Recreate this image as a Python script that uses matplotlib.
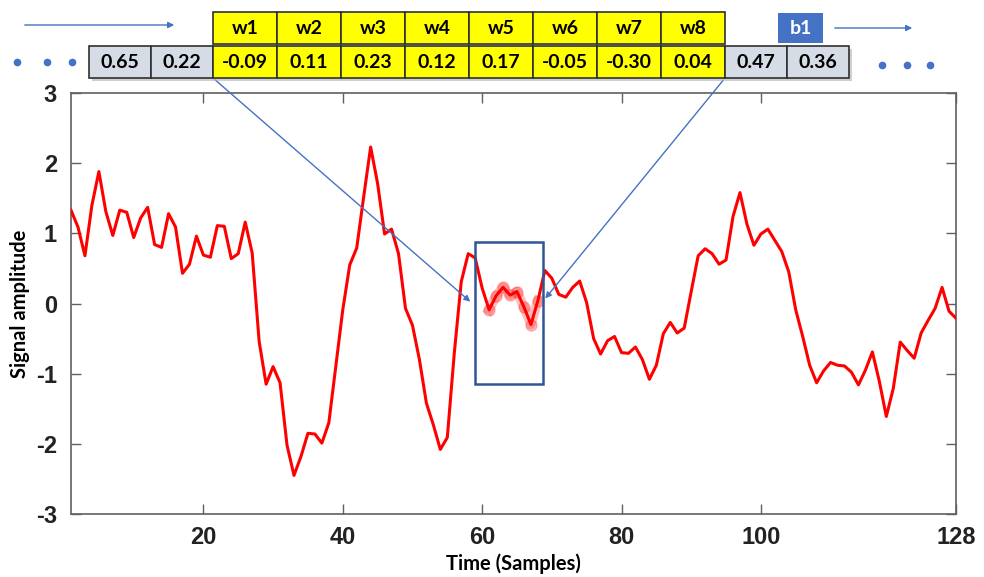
import matplotlib
matplotlib.use("Agg")
import matplotlib.pyplot as plt
from matplotlib.patches import Rectangle
import numpy as np

plt.rcParams["axes.unicode_minus"] = False

# signal, 128 samples
signal = [
    1.33, 1.09, 0.68, 1.40, 1.88, 1.31, 0.97, 1.33, 1.30, 0.94,
    1.22, 1.37, 0.84, 0.80, 1.28, 1.09, 0.43, 0.56, 0.96, 0.69,
    0.66, 1.11, 1.10, 0.64, 0.71, 1.16, 0.72, -0.54, -1.15, -0.90,
    -1.13, -2.02, -2.45, -2.18, -1.85, -1.86, -1.99, -1.70, -0.90, -0.09,
    0.55, 0.79, 1.52, 2.23, 1.71, 0.99, 1.06, 0.71, -0.07, -0.31,
    -0.80, -1.42, -1.73, -2.08, -1.91, -0.71, 0.31, 0.71, 0.65, 0.22,
    -0.09, 0.11, 0.23, 0.12, 0.17, -0.05, -0.30, 0.04, 0.47, 0.36,
    0.13, 0.09, 0.23, 0.32, 0.01, -0.50, -0.72, -0.53, -0.47, -0.70,
    -0.71, -0.62, -0.80, -1.08, -0.88, -0.43, -0.27, -0.42, -0.35, 0.17,
    0.68, 0.78, 0.71, 0.56, 0.62, 1.24, 1.58, 1.13, 0.83, 0.99,
    1.06, 0.90, 0.74, 0.45, -0.09, -0.47, -0.88, -1.13, -0.96, -0.84,
    -0.88, -0.89, -0.98, -1.16, -0.95, -0.69, -1.11, -1.61, -1.21, -0.55,
    -0.67, -0.78, -0.42, -0.24, -0.07, 0.23, -0.11, -0.21,
]
samples = np.arange(1, len(signal) + 1)

# kernel window (w1..w8) sits on samples 61..68
win_start = 61
weight_labels = ["w1", "w2", "w3", "w4", "w5", "w6", "w7", "w8"]
before_vals = ["0.65", "0.22"]
window_vals = ["-0.09", "0.11", "0.23", "0.12", "0.17", "-0.05", "-0.30", "0.04"]
after_vals = ["0.47", "0.36"]
box_x = (59.0, 68.8)
box_y = (-1.15, 0.87)

xticks = [20, 40, 60, 80, 100, 128]
yticks = [-3, -2, -1, 0, 1, 2, 3]

BLUE = "#4472C4"
TICK_FONT = ["Liberation Sans", "DejaVu Sans"]
CELL_FONT = ["Lato", "DejaVu Sans"]

W, H = 984, 577
fig = plt.figure(figsize=(W / 100, H / 100), dpi=100)
ax = fig.add_axes([71 / W, 1 - 514 / H, (956 - 71) / W, (514 - 93) / H])

ax.plot(samples, signal, color="red", lw=2.2, zorder=3)
win = slice(win_start - 1, win_start - 1 + len(window_vals))
ax.plot(samples[win], signal[win], color="red", alpha=0.25, lw=7,
        marker="o", ms=8, zorder=2)
ax.add_patch(Rectangle((box_x[0], box_y[0]), box_x[1] - box_x[0], box_y[1] - box_y[0],
                       fill=False, ec="#2F5597", lw=1.8, zorder=4))

ax.set_xlim(1, 128)
ax.set_ylim(-3, 3)
ax.set_xticks(xticks)
ax.set_yticks(yticks)
ax.tick_params(direction="in", length=7, width=1, color="#606060",
               top=True, right=True)
ax.tick_params(axis="x", pad=9)
ax.tick_params(axis="y", pad=10)
for lab in ax.get_xticklabels() + ax.get_yticklabels():
    lab.set_family(TICK_FONT)
    lab.set_fontsize(17)
    lab.set_fontweight("bold")
    lab.set_color("#222222")
for sp in ax.spines.values():
    sp.set_color("#606060")
    sp.set_linewidth(1.2)
ax.set_xlabel("Time (Samples)", family=CELL_FONT, fontsize=14.5, fontweight="bold", labelpad=3)
ax.set_ylabel("Signal amplitude", family=CELL_FONT, fontsize=14.5, fontweight="bold", labelpad=4)

# overlay in pixel coordinates for the table strip
ov = fig.add_axes([0, 0, 1, 1], zorder=10)
ov.set_xlim(0, W)
ov.set_ylim(H, 0)
ov.axis("off")

cw = 64
gw = 62
row1 = (12, 44)
row2 = (46, 78)
left_edge = 213
right_edge = left_edge + cw * len(window_vals)

cells = []
for i, v in enumerate(before_vals):
    cells.append((left_edge - gw * (len(before_vals) - i), gw, v, "#D6DCE5"))
for i, v in enumerate(window_vals):
    cells.append((left_edge + cw * i, cw, v, "#FFFF00"))
for i, v in enumerate(after_vals):
    cells.append((right_edge + gw * i, gw, v, "#D6DCE5"))

# drop shadow under the value row
x_first = cells[0][0]
x_last = cells[-1][0] + cells[-1][1]
ov.add_patch(Rectangle((x_first + 3, row2[0] + 3), x_last - x_first, row2[1] - row2[0],
                       fc="#b0b0b0", ec="none", alpha=0.6, zorder=1))
for xx, ww, v, fc in cells:
    ov.add_patch(Rectangle((xx, row2[0]), ww, row2[1] - row2[0],
                           fc=fc, ec="#303030", lw=1.2, zorder=2))
    ov.text(xx + ww / 2, (row2[0] + row2[1]) / 2 + 1, v, ha="center", va="center",
            family=CELL_FONT, fontsize=14, fontweight="bold", zorder=3)
for j, lab in enumerate(weight_labels):
    xx = left_edge + j * cw
    ov.add_patch(Rectangle((xx, row1[0]), cw, row1[1] - row1[0],
                           fc="#FFFF00", ec="#303030", lw=1.2, zorder=2))
    ov.text(xx + cw / 2, (row1[0] + row1[1]) / 2 + 1, lab, ha="center", va="center",
            family=CELL_FONT, fontsize=14, fontweight="bold", zorder=3)

# bias box
ov.add_patch(Rectangle((778, 13), 45, 30, fc=BLUE, ec="none", zorder=2))
ov.text(800.5, 29, "b1", ha="center", va="center", color="white",
        family=CELL_FONT, fontsize=14, fontweight="bold", zorder=3)

# sliding direction arrows and ellipsis dots
arrow_kw = dict(arrowstyle="-|>", color=BLUE, lw=1, mutation_scale=9)
ov.annotate("", xy=(177, 25), xytext=(22, 25), arrowprops=arrow_kw)
ov.annotate("", xy=(915, 28), xytext=(832, 28), arrowprops=arrow_kw)
ov.plot([17, 47, 72], [62, 62, 62], "o", color=BLUE, ms=4.5)
ov.plot([882, 907, 930], [65, 65, 65], "o", color=BLUE, ms=4.5)

# connectors from the window edges to the box on the signal
ax.annotate("", xy=(box_x[0] - 0.4, 0.0), xycoords="data",
            xytext=(left_edge, row2[1]), textcoords=ov.transData,
            arrowprops=arrow_kw, annotation_clip=False, zorder=11)
ax.annotate("", xy=(box_x[1], 0.04), xycoords="data",
            xytext=(right_edge, row2[1]), textcoords=ov.transData,
            arrowprops=arrow_kw, annotation_clip=False, zorder=11)

fig.savefig("out.png", dpi=100)
